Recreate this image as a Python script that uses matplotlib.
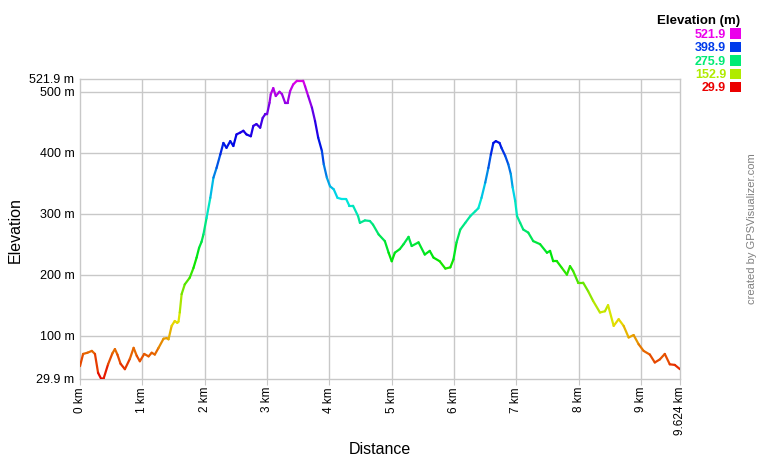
import matplotlib
matplotlib.use("Agg")
import matplotlib.pyplot as plt
import numpy as np
from matplotlib.collections import LineCollection
from matplotlib.colors import hsv_to_rgb

plt.rcParams['font.family'] = ['Liberation Sans', 'DejaVu Sans']

dist_km = [0.00, 0.05, 0.12, 0.19, 0.24, 0.29, 0.34, 0.38, 0.45, 0.52, 0.56, 0.60, 0.65, 0.72,
           0.80, 0.86, 0.91, 0.96, 1.03, 1.10, 1.15, 1.20, 1.26, 1.34, 1.39, 1.42, 1.47, 1.52,
           1.56, 1.58, 1.60, 1.63, 1.68, 1.76, 1.82, 1.87, 1.91, 1.95, 1.98, 2.03, 2.09, 2.14,
           2.19, 2.25, 2.30, 2.35, 2.41, 2.46, 2.51, 2.57, 2.62, 2.67, 2.74, 2.78, 2.83, 2.89,
           2.93, 2.97, 3.00, 3.04, 3.06, 3.10, 3.14, 3.20, 3.24, 3.29, 3.33, 3.37, 3.42, 3.48,
           3.58, 3.61, 3.66, 3.72, 3.77, 3.82, 3.88, 3.91, 3.96, 4.01, 4.07, 4.13, 4.20, 4.27,
           4.32, 4.38, 4.46, 4.49, 4.57, 4.65, 4.70, 4.79, 4.89, 4.95, 5.00, 5.05, 5.13, 5.19,
           5.27, 5.32, 5.43, 5.53, 5.61, 5.67, 5.77, 5.86, 5.94, 5.99, 6.04, 6.10, 6.18, 6.26,
           6.34, 6.39, 6.44, 6.50, 6.55, 6.59, 6.63, 6.67, 6.73, 6.76, 6.82, 6.87, 6.91, 6.94,
           6.98, 7.01, 7.06, 7.11, 7.19, 7.27, 7.38, 7.49, 7.54, 7.59, 7.65, 7.73, 7.81, 7.86,
           7.91, 7.99, 8.07, 8.15, 8.23, 8.34, 8.42, 8.47, 8.56, 8.64, 8.72, 8.80, 8.88, 8.96,
           9.04, 9.14, 9.22, 9.30, 9.38, 9.46, 9.54, 9.624]
elev_m = [51, 71, 73, 76, 71, 40, 30, 31, 54, 72, 79, 70, 55, 46,
          63, 81, 68, 59, 71, 67, 73, 70, 81, 96, 97, 95, 117, 125,
          122, 124, 139, 169, 185, 196, 212, 229, 245, 255, 267, 294, 327, 360,
          376, 398, 417, 409, 420, 412, 431, 434, 437, 431, 428, 445, 448, 442,
          458, 464, 464, 483, 497, 507, 494, 501, 497, 483, 483, 502, 513, 519,
          519, 510, 494, 475, 453, 426, 404, 382, 360, 346, 341, 327, 325, 325,
          314, 314, 297, 286, 290, 289, 283, 267, 256, 237, 223, 237, 243, 251,
          263, 248, 254, 234, 240, 229, 223, 211, 213, 226, 254, 275, 286, 297,
          305, 310, 327, 352, 376, 398, 417, 420, 417, 409, 396, 382, 366, 344,
          322, 297, 286, 275, 270, 256, 251, 237, 240, 223, 223, 212, 201, 215,
          207, 188, 188, 174, 158, 139, 141, 151, 117, 128, 117, 98, 102, 87,
          76, 70, 57, 62, 71, 54, 53, 46]

elev_min = 29.9
elev_max = 521.9
dist_max = 9.624
x_ticks = [0, 1, 2, 3, 4, 5, 6, 7, 8, 9, 9.624]
x_tick_labels = ["0 km", "1 km", "2 km", "3 km", "4 km", "5 km", "6 km", "7 km", "8 km", "9 km", "9.624 km"]
y_ticks = [29.9, 100, 200, 300, 400, 500, 521.9]
y_tick_labels = ["29.9 m", "100 m", "200 m", "300 m", "400 m", "500 m", "521.9 m"]
legend_values = [521.9, 398.9, 275.9, 152.9, 29.9]


def elev_color(e, v=0.9):
    h = (e - elev_min) / (elev_max - elev_min) * (300.0 / 360.0)
    h = min(max(h, 0), 300.0 / 360.0)
    return hsv_to_rgb((h, 1.0, v))


fig = plt.figure(figsize=(7.6, 4.6), dpi=100)
ax = fig.add_axes([80 / 760, (460 - 380) / 460, 600 / 760, 300 / 460])

x = np.array(dist_km)
y = np.array(elev_m, dtype=float)
pts = np.column_stack([x, y]).reshape(-1, 1, 2)
segs = np.concatenate([pts[:-1], pts[1:]], axis=1)
cols = [elev_color((a + b) / 2) for a, b in zip(y[:-1], y[1:])]
lc = LineCollection(segs, colors=cols, linewidths=1.6, capstyle='round', joinstyle='round', zorder=3)
ax.add_collection(lc)

ax.set_xlim(0, dist_max)
ax.set_ylim(elev_min, elev_max)

ax.set_xticks(x_ticks)
ax.set_xticklabels(x_tick_labels, rotation=90, fontsize=8.5)
ax.set_yticks(y_ticks)
ax.set_yticklabels(y_tick_labels, fontsize=9)
ax.tick_params(axis='x', length=4, color='#c8c8c8', pad=1)
ax.tick_params(axis='y', length=0, pad=4)
for t in ax.get_yticklabels():
    t.set_verticalalignment('center')

gridc = '#c8c8c8'
for xv in x_ticks[1:-1]:
    ax.axvline(xv, color=gridc, lw=1, zorder=1)
for yv in y_ticks[1:-1]:
    ax.axhline(yv, color=gridc, lw=1, zorder=1)
for s in ax.spines.values():
    s.set_color(gridc)
    s.set_linewidth(1)

fig.text(380 / 760, 1 - 450 / 460, "Distance", ha='center', va='center', fontsize=11.5)
fig.text(15 / 760, 1 - 230 / 460, "Elevation", ha='center', va='center', rotation=90, fontsize=11.5)

# legend
fig.text(740 / 760, 1 - 21 / 460, "Elevation (m)", ha='right', va='center', fontsize=9.5, fontweight='bold')
row_y = [35, 48.3, 61.7, 75, 88.3]
for val, ry in zip(legend_values, row_y):
    c = elev_color(val, v=0.92)
    fig.text(726 / 760, 1 - ry / 460, f"{val:.1f}", ha='right', va='center', fontsize=9,
             fontweight='bold', color=c)
    fig.patches.append(plt.Rectangle((730 / 760, 1 - (ry + 5) / 460), 10.5 / 760, 10.5 / 460,
                                     transform=fig.transFigure, facecolor=c, edgecolor='none'))

fig.text(752 / 760, 1 - 229 / 460, "created by GPSVisualizer.com", rotation=90, ha='center', va='center',
         fontsize=8, color='#808080')

fig.savefig("out.png", dpi=100)
